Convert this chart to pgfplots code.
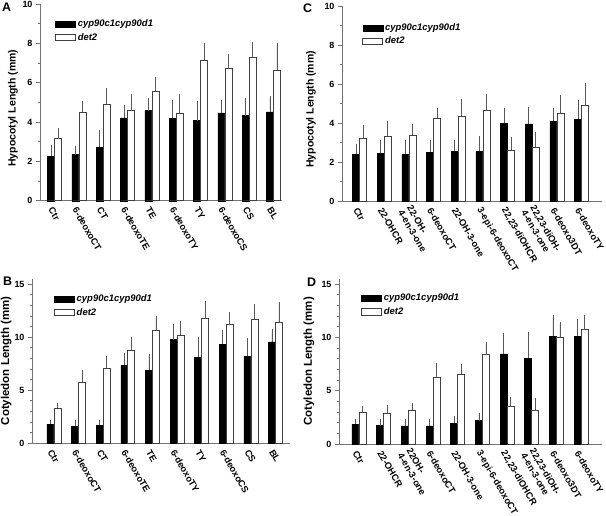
\documentclass[border=0pt]{standalone}
\usepackage{fontspec}
\setmainfont{Liberation Sans}
\usepackage{pgfplots}
\usepackage{pgfplotstable}
\pgfplotsset{compat=1.18}

% columns: category, cyp90c1cyp90d1 mean/err, det2 mean/err
\pgfplotstableread{
x cy cye dt dte
0 2.26 0.47 3.15 0.42
1 2.34 0.35 4.49 0.48
2 2.71 0.77 4.92 0.70
3 4.21 0.54 4.58 0.72
4 4.58 0.54 5.54 0.66
5 4.18 0.82 4.46 0.84
6 4.07 0.88 7.14 0.79
7 4.46 0.57 6.72 0.64
8 4.33 0.79 7.31 0.64
9 4.51 0.71 6.63 1.27
}\dataA

\pgfplotstableread{
x cy cye dt dte
0 1.79 0.19 3.30 0.25
1 1.57 0.38 5.75 0.95
2 1.67 0.31 7.07 0.95
3 7.33 0.94 8.74 1.07
4 6.86 1.35 10.60 1.20
5 9.75 1.25 10.20 1.10
6 8.11 1.70 11.73 1.45
7 9.34 1.10 11.16 1.01
8 8.18 1.51 11.70 1.19
9 9.53 1.00 11.42 1.69
}\dataB

\pgfplotstableread{
x cy cye dt dte
0 2.40 0.42 3.24 0.56
1 2.44 0.55 3.33 0.67
2 2.40 0.64 3.38 0.45
3 2.49 0.50 4.25 0.42
4 2.54 0.45 4.34 0.79
5 2.54 0.70 4.67 0.72
6 4.00 0.67 2.62 0.54
7 3.95 0.77 2.77 0.64
8 4.08 0.56 4.50 0.84
9 4.20 0.89 4.92 1.01
}\dataC

\pgfplotstableread{
x cy cye dt dte
0 1.85 0.31 2.95 0.40
1 1.72 0.38 2.92 0.53
2 1.69 0.41 3.20 0.47
3 1.69 0.41 6.24 1.16
4 1.94 0.47 6.55 0.79
5 2.19 0.54 8.37 1.00
6 8.46 1.70 3.51 0.72
7 8.06 2.19 3.13 0.95
8 10.09 1.82 10.00 1.25
9 10.09 1.41 10.72 1.19
}\dataD

\pgfplotsset{
  panel/.style={
    scale only axis, anchor=south west, clip=false,
    axis x line=bottom, axis y line=left,
    axis line style={-, black!55, line width=0.8pt},
    ybar=0pt, bar width=7bp,
    xtick=data, xtick style={draw=none},
    ymin=0,
    tick align=outside, major tick length=4bp, minor tick length=2.5bp,
    ytick style={black!55, line width=0.6pt},
    yticklabel style={font=\bfseries\fontsize{9}{10}\selectfont},
    xticklabel style={font=\bfseries\fontsize{9.3}{10.3}\selectfont,
      rotate=-60, anchor=west, yshift=-5bp, align=left, inner sep=1pt},
    /pgf/number format/assume math mode=true,
    ylabel style={font=\bfseries\fontsize{10.5}{12}\selectfont, anchor=center},
    legend style={draw=none, fill=none, anchor=north west,
      font=\bfseries\itshape\fontsize{9.5}{11}\selectfont,
      row sep=1pt, inner sep=0pt, cells={anchor=west}},
    legend image code/.code={\draw[#1] (0bp,-3.2bp) rectangle (20bp,3.2bp);},
  },
  cyp/.style={fill=black, draw=black, line width=0.4pt,
    error bars/.cd, y dir=plus, y explicit,
    error bar style={black!65, line width=0.6pt},
    error mark options={black!65, mark size=2.2bp, line width=0.6pt}},
  dt/.style={fill=white, draw=black!75, line width=0.6pt,
    error bars/.cd, y dir=plus, y explicit,
    error bar style={black!65, line width=0.6pt},
    error mark options={black!65, mark size=2.2bp, line width=0.6pt}},
}

\newcommand{\panellabel}[3]{\node[font=\bfseries\fontsize{12.5}{13}\selectfont, anchor=north west, inner sep=0pt] at (#1bp,#2bp) {#3};}

\begin{document}
\begin{tikzpicture}
\path[use as bounding box] (0,0) rectangle (606bp,-516bp);

% A
\begin{axis}[panel, at={(40bp,-200.7bp)}, width=242bp, height=196.7bp,
    xmin=-0.6, xmax=9.35, ymax=10,
    ytick={0,2,...,10}, minor ytick={1,3,...,9},
    xticklabels={Ctr,6-deoxoCT,CT,6-deoxoTE,TE,6-deoxoTY,TY,6-deoxoCS,CS,BL},
    ylabel={Hypocotyl Length (mm)},
    ylabel style={at={(axis description cs:-0.112,0.47)}},
    legend style={at={(axis description cs:0.062,0.93)}}]
  \addplot[cyp] table[x=x, y=cy, y error=cye] {\dataA};
  \addplot[dt] table[x=x, y=dt, y error=dte] {\dataA};
  \legend{cyp90c1cyp90d1, det2}
\end{axis}

% C
\begin{axis}[panel, at={(342bp,-201bp)}, width=260bp, height=195bp,
    xmin=-0.71, xmax=9.83, ymax=10,
    ytick={0,2,...,10}, minor ytick={1,3,...,9},
    xticklabels={Ctr,22-OHCR,{22-OH-\\4-en-3-one},6-deoxoCT,22-OH-3-one,3-epi-6-deoxoCT,{22,23-diOHCR},{22,23-diOH-\\4-en-3-one},6-deoxo3DT,6-deoxoTY},
    ylabel={Hypocotyl Length (mm)},
    ylabel style={at={(axis description cs:-0.119,0.47)}},
    legend style={at={(axis description cs:0.078,0.92)}}]
  \addplot[cyp] table[x=x, y=cy, y error=cye] {\dataC};
  \addplot[dt] table[x=x, y=dt, y error=dte] {\dataC};
  \legend{cyp90c1cyp90d1, det2}
\end{axis}

% B
\begin{axis}[panel, at={(32bp,-443bp)}, width=258bp, height=164.3bp,
    xmin=-0.89, xmax=9.59, ymax=15.5,
    ytick={0,5,10,15}, minor ytick={1,2,3,4,6,7,8,9,11,12,13,14},
    xticklabels={Ctr,6-deoxoCT,CT,6-deoxoTE,TE,6-deoxoTY,TY,6-deoxoCS,CS,BL},
    ylabel={Cotyledon Length (mm)},
    ylabel style={at={(axis description cs:-0.10,0.5)}, font=\bfseries\fontsize{11.5}{12}\selectfont},
    legend style={at={(axis description cs:0.085,0.915)}}]
  \addplot[cyp] table[x=x, y=cy, y error=cye] {\dataB};
  \addplot[dt] table[x=x, y=dt, y error=dte] {\dataB};
  \legend{cyp90c1cyp90d1, det2}
\end{axis}

% D
\begin{axis}[panel, at={(339bp,-444bp)}, width=263bp, height=165.3bp,
    xmin=-0.81, xmax=9.85, ymax=15.5,
    ytick={0,5,10,15}, minor ytick={1,2,3,4,6,7,8,9,11,12,13,14},
    xticklabels={Ctr,22-OHCR,{22OH-\\4-en-3-one},6-deoxoCT,22-OH-3-one,3-epi-6-deoxoCT,{22,23-diOHCR},{22,23-diOH-\\4-en-3-one},6-deoxo3DT,6-deoxoTY},
    ylabel={Cotyledon Length (mm)},
    ylabel style={at={(axis description cs:-0.114,0.5)}, font=\bfseries\fontsize{11.5}{12}\selectfont},
    legend style={at={(axis description cs:0.084,0.92)}}]
  \addplot[cyp] table[x=x, y=cy, y error=cye] {\dataD};
  \addplot[dt] table[x=x, y=dt, y error=dte] {\dataD};
  \legend{cyp90c1cyp90d1, det2}
\end{axis}

\panellabel{2}{-3}{A}
\panellabel{303}{-4}{C}
\panellabel{3}{-277}{B}
\panellabel{307}{-278}{D}
\end{tikzpicture}
\end{document}
